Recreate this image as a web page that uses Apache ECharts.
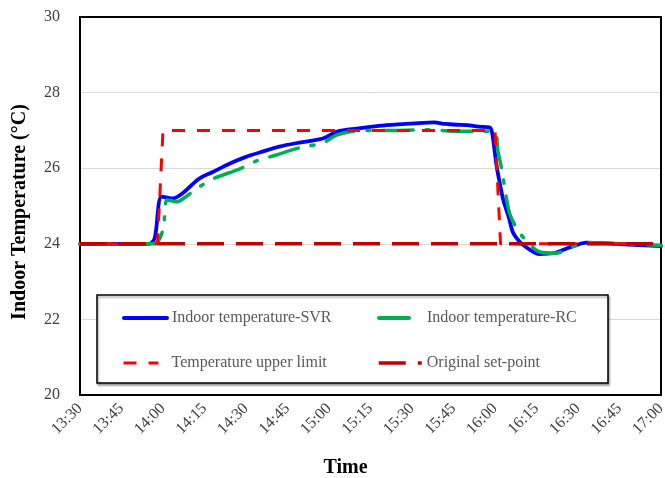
<!DOCTYPE html>
<html>
<head>
<meta charset="utf-8">
<script src="https://cdn.jsdelivr.net/npm/echarts@6/dist/echarts.min.js"></script>
<style>html,body{margin:0;padding:0;background:#fff}#c{width:665px;height:478px}</style>
</head>
<body>
<div id="c"></div>
<script>
// times in minutes since midnight
var tickLabels = ['13:30','13:45','14:00','14:15','14:30','14:45','15:00','15:15','15:30','15:45','16:00','16:15','16:30','16:45','17:00'];
var svrTime = [810,835,837,839.5,843.5,847,853,858,864,870,876,882,888,894,898,903,910,918,925,934,938,942,946,950,954,958,959,960.5,962,963,965,966.5,969,971.5,976,981,985,988,993,1003,1010,1020];
var svrTemp = [24.0,24.0,24.15,25.25,25.2,25.33,25.72,25.9,26.12,26.3,26.44,26.57,26.66,26.73,26.79,26.97,27.05,27.12,27.16,27.2,27.21,27.17,27.15,27.14,27.1,27.08,26.92,26.1,25.5,25.16,24.7,24.3,24.05,23.9,23.73,23.75,23.85,23.93,24.03,24.0,23.97,23.94];
var rcTime = [810,837,840,841.5,845,848,853,858,864,869,874,881,886,891,897.5,903,912,925,935,945,955,960,961,962.5,964,965.5,969,973.5,976,982,988,995,1005,1020];
var rcTemp = [24.0,24.0,24.38,25.16,25.11,25.23,25.5,25.72,25.88,26.02,26.2,26.35,26.47,26.57,26.66,26.88,27.0,27.0,27.02,26.98,26.98,26.95,26.48,25.95,25.25,24.76,24.28,23.92,23.79,23.75,23.92,24.03,24.0,23.96];
var limitTime = [810,838,840,960,962,1020];
var limitTemp = [24,24,27,27,24,24];
var setTime = [810,1020];
var setTemp = [24,24];

function zip(a,b){return a.map(function(v,i){return [v,b[i]];});}
var FONT = 'Liberation Serif';
var names = ['Indoor temperature-SVR','Indoor temperature-RC','Temperature upper limit','Original set-point'];
function lg(name, left, top, w, pad, lw){
  return {data:[name], left:left, top:top, padding:0, itemWidth:w, itemHeight:14, z:10,
    itemStyle:{opacity:0}, lineStyle:{width:lw},
    textStyle:{fontFamily:FONT, fontSize:16, color:'#595959', padding:[0,0,0,pad]}};
}
var chart = echarts.init(document.getElementById('c'));
chart.setOption({
  animation:false,
  backgroundColor:'#fff',
  grid:{left:80, right:4, top:17, bottom:83, show:true, borderColor:'#000', borderWidth:2, z:3,
    containLabel:false, outerBoundsMode:'none'},
  graphic:[{type:'rect', z:5, shape:{x:97, y:295, width:511, height:88},
    style:{fill:'#fff', stroke:'#000', lineWidth:1.5, shadowColor:'rgba(0,0,0,0.35)', shadowOffsetX:1, shadowOffsetY:2, shadowBlur:2}}],
  legend:[
    lg(names[0],122,310,43,0,4),
    lg(names[1],377,310,32,11,4),
    lg(names[2],122,355,35,8,3),
    lg(names[3],377,355,43,0,3.5)
  ],
  xAxis:{type:'value', min:810, max:1020, interval:15,
    name:'Time', nameLocation:'middle', nameGap:63,
    nameTextStyle:{fontFamily:FONT, fontSize:20, fontWeight:'bold', color:'#000', padding:[0,50,0,0]},
    axisLine:{show:false}, axisTick:{show:false}, splitLine:{show:false},
    axisLabel:{rotate:45, margin:11, fontFamily:FONT, fontSize:16, color:'#404040',
      formatter:function(v){return tickLabels[Math.round((v-810)/15)];}}},
  yAxis:{type:'value', min:20, max:30, interval:2,
    name:'Indoor Temperature (°C)', nameLocation:'middle', nameGap:50,
    nameTextStyle:{fontFamily:FONT, fontSize:20, fontWeight:'bold', color:'#000', padding:[0,12,0,0]},
    axisLine:{show:false}, axisTick:{show:false},
    splitLine:{lineStyle:{color:'#D9D9D9', width:1}},
    axisLabel:{margin:20, fontFamily:FONT, fontSize:16, color:'#404040'}},
  series:[
    {name:names[0], type:'line', data:zip(svrTime,svrTemp), symbol:'none', smooth:0.3, z:4,
      lineStyle:{color:'#0000FF', width:3.8, cap:'round'}, itemStyle:{color:'#0000FF'}},
    {name:names[1], type:'line', data:zip(rcTime,rcTemp), symbol:'none', smooth:0.3, z:5,
      lineStyle:{color:'#00B050', width:3.5, type:[30,13,3,13], cap:'round'}, itemStyle:{color:'#00B050'}},
    {name:names[2], type:'line', data:zip(limitTime,limitTemp), symbol:'none', z:6,
      lineStyle:{color:'#FF0000', width:3, type:[13,12]}, itemStyle:{color:'#FF0000'}},
    {name:names[3], type:'line', data:zip(setTime,setTemp), symbol:'none', z:7,
      lineStyle:{color:'#C00000', width:3.5, type:[27,12]}, itemStyle:{color:'#C00000'}}
  ]
});
</script>
</body>
</html>
